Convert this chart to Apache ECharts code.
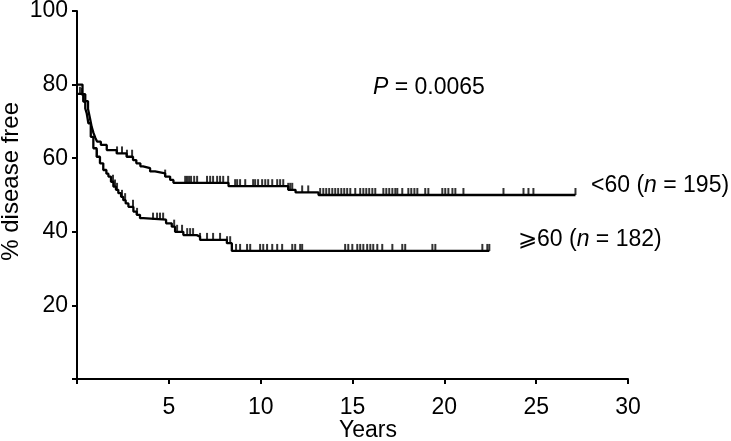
<!DOCTYPE html>
<html>
<head>
<meta charset="utf-8">
<script src="https://cdn.jsdelivr.net/npm/echarts@6/dist/echarts.min.js"></script>
<style>
  html, body { margin: 0; padding: 0; background: #fff; }
  #chart { width: 731px; height: 441px; }
</style>
</head>
<body>
<div id="chart"></div>
<script>
// Kaplan-Meier steps: [years, % disease free] (value holds from this time on)
var under60Steps = [
  [0, 80], [0.3, 77.4], [0.45, 75.5], [0.6, 73.4], [0.7, 71], [0.8, 68.5], [0.9, 66.8],
  [1.0, 65.5], [1.1, 64.5], [1.3, 63.6], [1.62, 62.2], [2.16, 61.3], [2.7, 60.4],
  [3.05, 59.5], [3.23, 58.6], [3.45, 57.8], [3.6, 57.3], [3.98, 56.4], [4.25, 55.9],
  [4.8, 55.0], [5.07, 54.1], [5.25, 53.3], [8.25, 52.4], [11.5, 51.4], [11.9, 50.7],
  [13.15, 50.0], [27.14, 50.0]
];
var over60Steps = [
  [0, 77.5], [0.2, 77.2], [0.34, 75.4], [0.45, 73.5], [0.53, 72.2], [0.62, 69.5],
  [0.75, 65.8], [0.89, 62.7], [1.07, 60.4], [1.25, 58.6], [1.43, 56.8], [1.6, 55.8],
  [1.71, 55.0], [1.85, 53.6], [1.98, 52.3], [2.12, 51.4], [2.25, 50.5], [2.4, 49.5],
  [2.52, 48.6], [2.65, 47.7], [2.8, 46.8], [3.07, 45.5], [3.25, 44.6], [3.43, 43.7],
  [3.61, 43.3], [4.85, 42.3], [5.16, 41.4], [5.34, 40.0], [5.79, 39.1], [6.52, 38.7],
  [6.7, 37.8], [8.16, 36.9], [8.43, 34.8], [22.45, 34.8]
];
// censored observations (years)
var under60Censored = [
  2.18, 2.45, 2.72, 3.0, 4.8, 5.89, 5.99, 6.1, 6.21, 6.38, 6.54, 7.08, 7.25, 7.41, 7.63,
  7.79, 7.96, 8.23, 8.61, 8.72, 8.88, 9.16, 9.59, 9.7, 9.86, 10.08, 10.25, 10.41, 10.63,
  10.9, 11.06, 11.23, 11.5, 11.61, 11.72, 12.26, 12.59, 13.24, 13.41, 13.57, 13.73, 13.9,
  14.06, 14.22, 14.39, 14.55, 14.71, 14.88, 15.15, 15.42, 15.59, 15.75, 15.91, 16.08,
  16.24, 16.68, 16.84, 17.0, 17.17, 17.33, 17.44, 17.71, 18.04, 18.2, 18.37, 18.53,
  18.96, 19.13, 19.89, 20.05, 20.22, 20.44, 20.6, 21.04, 23.22, 24.31, 24.58, 24.85, 27.14
];
var over60Censored = [
  0.16, 0.27, 1.09, 1.96, 2.07, 2.18, 2.45, 2.62, 3.05, 3.27, 4.14, 4.36, 4.52, 4.69,
  5.29, 5.45, 5.72, 6.0, 6.16, 6.32, 6.7, 7.08, 7.41, 7.79, 8.17, 8.34, 8.66, 8.88, 9.26,
  9.43, 9.97, 10.14, 10.35, 10.63, 10.9, 11.17, 11.72, 11.88, 12.15, 12.26, 14.6, 14.77,
  14.99, 15.26, 15.42, 15.59, 15.8, 15.97, 16.13, 16.35, 16.62, 17.17, 17.71, 17.87,
  19.35, 19.51, 22.07, 22.34, 22.45
];
var xTicks = [0, 5, 10, 15, 20, 25, 30];
var yTicks = [0, 20, 40, 60, 80, 100];

// survival level at time t from a step list
function levelAt(steps, t) {
  var v = steps[0][1];
  for (var i = 0; i < steps.length; i++) {
    if (steps[i][0] <= t + 1e-9) v = steps[i][1];
  }
  return v;
}
function censorPoints(steps, times) {
  return times.map(function (t) { return [t, levelAt(steps, t)]; });
}

var ink = '#000';
var fontFam = '"Liberation Sans", Arial, sans-serif';
var fs = 23;
var chart = echarts.init(document.getElementById('chart'), null, { renderer: 'canvas' });

var tickMark = {
  type: 'scatter',
  symbol: 'rect',
  symbolSize: [2, 7],
  symbolOffset: [0, -3.5],
  itemStyle: { color: ink },
  silent: true,
  z: 3
};
var italic = { i: { fontStyle: 'italic', fontSize: fs, fontFamily: fontFam, fill: ink } };

chart.setOption({
  backgroundColor: '#fff',
  animation: false,
  grid: { left: 77, right: 103, top: 11, bottom: 62, containLabel: false, outerBoundsMode: 'none' },
  xAxis: {
    type: 'value',
    min: xTicks[0],
    max: xTicks[xTicks.length - 1],
    interval: 5,
    splitLine: { show: false },
    axisLine: { onZero: false, lineStyle: { color: ink, width: 2 } },
    axisTick: { length: 5, lineStyle: { color: ink, width: 2 } },
    axisLabel: {
      color: ink, fontSize: fs, fontFamily: fontFam, margin: 17,
      formatter: function (v) { return v === 0 ? '' : String(v); }
    }
  },
  yAxis: {
    type: 'value',
    min: yTicks[0],
    max: yTicks[yTicks.length - 1],
    interval: 20,
    splitLine: { show: false },
    axisLine: { show: true, lineStyle: { color: ink, width: 2 } },
    axisTick: { show: true, length: 5, lineStyle: { color: ink, width: 2 } },
    axisLabel: {
      color: ink, fontSize: fs, fontFamily: fontFam, margin: 9,
      formatter: function (v) { return v === 0 ? '' : String(v); }
    }
  },
  graphic: [
    {
      type: 'text', left: -1, top: 102, rotation: Math.PI / 2,
      style: { text: '% disease free', fill: ink, font: '24px ' + fontFam }
    },
    {
      type: 'text', left: 339, top: 419,
      style: { text: 'Years', fill: ink, font: fs + 'px ' + fontFam }
    },
    {
      type: 'text', left: 373, top: 76,
      style: { text: '{i|P} = 0.0065', fill: ink, font: fs + 'px ' + fontFam, rich: italic }
    },
    {
      type: 'text', left: 591, top: 174,
      style: { text: '<60 ({i|n} = 195)', fill: ink, font: fs + 'px ' + fontFam, rich: italic }
    },
    {
      type: 'text', left: 518, top: 228,
      style: { text: '\u2A7E60 ({i|n} = 182)', fill: ink, font: fs + 'px ' + fontFam, rich: italic }
    }
  ],
  series: [
    {
      type: 'line', step: 'end', data: under60Steps, showSymbol: false,
      lineStyle: { color: ink, width: 2.3 }, silent: true, z: 2
    },
    {
      type: 'line', step: 'end', data: over60Steps, showSymbol: false,
      lineStyle: { color: ink, width: 2.3 }, silent: true, z: 2
    },
    Object.assign({ data: censorPoints(under60Steps, under60Censored) }, tickMark),
    Object.assign({ data: censorPoints(over60Steps, over60Censored) }, tickMark)
  ]
});
</script>
</body>
</html>
